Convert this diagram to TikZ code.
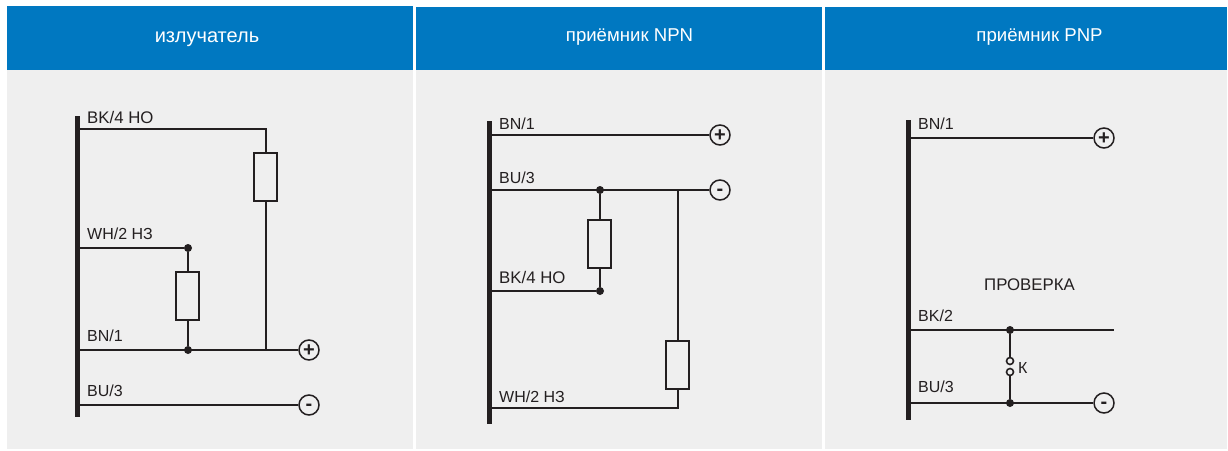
\documentclass[tikz,border=0pt]{standalone}
\usepackage{fontspec}
\setmainfont{Liberation Sans}
\usepackage{tikz}
\usetikzlibrary{calc, positioning}
\definecolor{HeadBlue}{HTML}{0078C1}
\definecolor{PanelGray}{HTML}{EFEFEF}
\definecolor{RichBlack}{HTML}{231F20}
\tikzset{%
  head_block/.style={%
    rectangle,%
    fill=HeadBlue,%
    anchor=north west,%
    minimum height=64pt,%
    inner sep=0pt%
  },
  head_text/.style={%
    inner sep=0pt,%
    text=white,%
    font={\fontsize{18.6}{20}\selectfont}%
  },
  panel_block/.style={%
    rectangle,%
    fill=PanelGray,%
    anchor=north west,%
    minimum height=379pt,%
    inner sep=0pt%
  },
  bus_path/.style={%
    color=RichBlack,%
    line width=5pt%
  },
  wire_path/.style={%
    color=RichBlack,%
    line width=1.9pt,%
    line join=miter%
  },
  load_block/.style={%
    rectangle,%
    draw=RichBlack,%
    fill=PanelGray,%
    line width=2pt,%
    minimum width=23pt,%
    minimum height=48pt,%
    inner sep=0pt%
  },
  joint/.style={%
    circle,%
    fill=RichBlack,%
    minimum width=8pt,%
    inner sep=0pt%
  },
  contact/.style={%
    circle,%
    draw=RichBlack,%
    fill=PanelGray,%
    line width=1.6pt,%
    minimum width=7pt,%
    inner sep=0pt%
  },
  terminal/.style={%
    circle,%
    draw=RichBlack,%
    fill=PanelGray,%
    line width=1.5pt,%
    minimum width=20pt,%
    inner sep=0pt,%
    text=RichBlack,%
    font={\fontsize{20}{20}\selectfont\bfseries}%
  },
  annotate/.style={%
    anchor=base west,%
    inner sep=0pt,%
    text=RichBlack,%
    font={\fontsize{16}{18}\selectfont}%
  },
  annotate_wide/.style={%
    annotate,%
    font={\fontsize{16.8}{18}\selectfont}%
  },
}
\newcommand{\plussign}{\raisebox{-6.6pt}[0pt][0pt]{+}}
\newcommand{\minussign}{\raisebox{-5.4pt}[0pt][0pt]{-}}
\begin{document}
\begin{tikzpicture}[x=1pt, y=-1pt]

    \useasboundingbox [fill=white] (0,0) rectangle (1228,450);

    \node [head_block, minimum width=406pt] (HeadA) at (7,6) {};
    \node [head_block, minimum width=406pt] (HeadB) at (416,7) {};
    \node [head_block, minimum width=402pt] (HeadC) at (825,7) {};
    \node [panel_block, minimum width=406pt] (PanelA) at (7,70) {};
    \node [panel_block, minimum width=406pt] (PanelB) at (416,70) {};
    \node [panel_block, minimum width=402pt] (PanelC) at (825,70) {};
    \node [head_text, font={\fontsize{20}{20}\selectfont}] (HeadA_text) at (207,39) {излучатель};
    \node [head_text] (HeadB_text) at (629.5,37) {приёмник NPN};
    \node [head_text] (HeadC_text) at (1039.5,37) {приёмник PNP};

    \coordinate (bus_a_top) at (77,116);
    \coordinate (bus_a_bot) at (77,417);
    \coordinate (a_bk) at (77,129);
    \coordinate (a_bk_turn) at (266,129);
    \coordinate (a_wh) at (77,248);
    \coordinate (a_bn) at (77,350);
    \coordinate (a_bn_turn) at (266,350);
    \coordinate (a_bu) at (77,405);
    \node [joint] (a_dot_wh) at (188,248) {};
    \node [joint] (a_dot_bn) at (188,350) {};
    \node [terminal] (a_plus) at (309,350) {\plussign};
    \node [terminal] (a_minus) at (309,405) {\minussign};

    \draw [wire_path] (a_bk) -- (a_bk_turn) -- (a_bn_turn);
    \draw [wire_path] (a_wh) -- (a_dot_wh) -- (a_dot_bn);
    \draw [wire_path] (a_bn) -- (a_plus.west);
    \draw [wire_path] (a_bu) -- (a_minus.west);
    \draw [bus_path] (bus_a_top) -- (bus_a_bot);
    \node [load_block] (LoadA1) at (265.5,176.5) {};
    \node [load_block] (LoadA2) at (187.5,296) {};
    \node [annotate_wide] (a_bk_text) at (87,123) {BK/4 НО};
    \node [annotate] (a_wh_text) at (87,239) {WH/2 НЗ};
    \node [annotate] (a_bn_text) at (87,341) {BN/1};
    \node [annotate] (a_bu_text) at (87,396) {BU/3};

    \coordinate (bus_b_top) at (489,121);
    \coordinate (bus_b_bot) at (489,424);
    \coordinate (b_bn) at (489,135);
    \coordinate (b_bu) at (489,190);
    \coordinate (b_bu_turn) at (678,190);
    \coordinate (b_bk) at (489,291);
    \coordinate (b_wh) at (489,408);
    \coordinate (b_wh_turn) at (678,408);
    \node [joint] (b_dot_bu) at (600,190) {};
    \node [joint] (b_dot_bk) at (600,291) {};
    \node [terminal] (b_plus) at (720,135) {\plussign};
    \node [terminal] (b_minus) at (720,190) {\minussign};

    \draw [wire_path] (b_bn) -- (b_plus.west);
    \draw [wire_path] (b_bu) -- (b_minus.west);
    \draw [wire_path] (b_dot_bu) -- (b_dot_bk) -- (b_bk);
    \draw [wire_path] (b_bu_turn) -- (b_wh_turn) -- (b_wh);
    \draw [bus_path] (bus_b_top) -- (bus_b_bot);
    \node [load_block] (LoadB1) at (599.5,243.5) {};
    \node [load_block] (LoadB2) at (677.5,364.5) {};
    \node [annotate] (b_bn_text) at (499,129) {BN/1};
    \node [annotate] (b_bu_text) at (499,183) {BU/3};
    \node [annotate_wide] (b_bk_text) at (499,283) {BK/4 НО};
    \node [annotate] (b_wh_text) at (499,402) {WH/2 НЗ};

    \coordinate (bus_c_top) at (908,120);
    \coordinate (bus_c_bot) at (908,420);
    \coordinate (c_bn) at (908,138);
    \coordinate (c_bk) at (908,330);
    \coordinate (c_bk_end) at (1114,330);
    \coordinate (c_bu) at (908,403);
    \node [joint] (c_dot_bk) at (1010,330) {};
    \node [joint] (c_dot_bu) at (1010,403) {};
    \node [contact] (c_contact_a) at (1010,361) {};
    \node [contact] (c_contact_b) at (1010,372) {};
    \node [terminal] (c_plus) at (1104,138) {\plussign};
    \node [terminal] (c_minus) at (1104,403) {\minussign};

    \draw [wire_path] (c_bn) -- (c_plus.west);
    \draw [wire_path] (c_bk) -- (c_bk_end);
    \draw [wire_path] (c_bu) -- (c_minus.west);
    \draw [wire_path] (c_dot_bk) -- (c_contact_a.north);
    \draw [wire_path] (c_contact_b.south) -- (c_dot_bu);
    \draw [bus_path] (bus_c_top) -- (bus_c_bot);
    \node [annotate] (c_bn_text) at (918,129) {BN/1};
    \node [annotate] (c_bk_text) at (918,321) {BK/2};
    \node [annotate] (c_bu_text) at (918,392) {BU/3};
    \node [annotate_wide] (c_check_text) at (984,290) {ПРОВЕРКА};
    \node [annotate] (c_k_text) at (1018,373) {К};

  \end{tikzpicture}
\end{document}
